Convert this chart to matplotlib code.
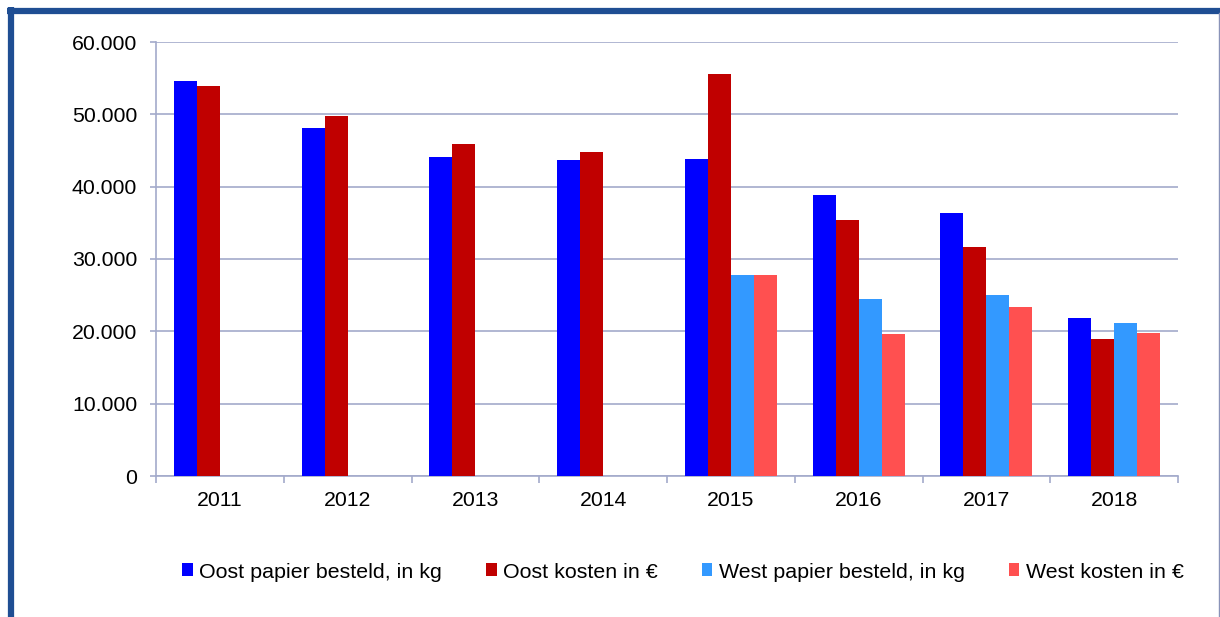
import numpy as np
import matplotlib
matplotlib.use("Agg")
import matplotlib.pyplot as plt
from matplotlib.lines import Line2D
from matplotlib.ticker import FuncFormatter, FixedLocator

plt.rcParams['font.family'] = ['Liberation Sans', 'DejaVu Sans']

# data
years = ['2011', '2012', '2013', '2014', '2015', '2016', '2017', '2018']
oost_papier = [54600, 48100, 44100, 43700, 43800, 38800, 36400, 21800]
oost_kosten = [53900, 49800, 45900, 44800, 55600, 35400, 31600, 18900]
west_papier = [np.nan, np.nan, np.nan, np.nan, 27800, 24500, 25000, 21200]
west_kosten = [np.nan, np.nan, np.nan, np.nan, 27800, 19700, 23300, 19800]

series = [
    ('Oost papier besteld, in kg', oost_papier, '#0000FF'),
    ('Oost kosten in €', oost_kosten, '#C00000'),
    ('West papier besteld, in kg', west_papier, '#3399FF'),
    ('West kosten in €', west_kosten, '#FF5050'),
]

grid_col = '#A3AACB'
border_col = '#1F4E93'

W, H = 1220, 617
fig = plt.figure(figsize=(W / 100, H / 100), dpi=100)
ax = fig.add_axes([156 / W, 1 - 476 / H, (1178 - 156) / W, (476 - 42) / H])

x = np.arange(len(years))
bw = 0.18
for i, (label, vals, col) in enumerate(series):
    ax.bar(x + (i - 1.5) * bw, vals, width=bw, color=col, label=label,
           edgecolor='none', zorder=3)

ax.set_xlim(-0.5, len(years) - 0.5)
ax.set_ylim(0, 60000)
ax.set_yticks(np.arange(0, 60001, 10000))
ax.yaxis.set_major_formatter(FuncFormatter(lambda v, p: f'{int(v):,}'.replace(',', '.')))
ax.set_xticks(x)
ax.set_xticklabels(years)
ax.xaxis.set_minor_locator(FixedLocator(np.arange(len(years) + 1) - 0.5))

ax.grid(axis='y', color=grid_col, linewidth=1.2, zorder=0)
for s in ['top', 'right']:
    ax.spines[s].set_visible(False)
for s in ['left', 'bottom']:
    ax.spines[s].set_color(grid_col)
    ax.spines[s].set_linewidth(1.2)

ax.tick_params(axis='y', length=4.5, color=grid_col, width=1.2, pad=9, labelsize=15.3)
ax.tick_params(axis='x', which='major', length=0, pad=11, labelsize=15.3)
ax.tick_params(axis='x', which='minor', length=5, color=grid_col, width=1.2)

fig.legend(loc='center', bbox_to_anchor=(683 / W, 1 - 572 / H), ncol=4,
           frameon=False, fontsize=15.4, handlelength=0.5, handleheight=0.55,
           handletextpad=0.3, columnspacing=2.05, borderaxespad=0)

# outer frame
fig.add_artist(Line2D([10.5 / W, 10.5 / W], [1 - 7 / H, 0], transform=fig.transFigure,
                      color=border_col, linewidth=4.5, solid_capstyle='butt'))
fig.add_artist(Line2D([7 / W, 1], [1 - 10.5 / H, 1 - 10.5 / H], transform=fig.transFigure,
                      color=border_col, linewidth=4.5, solid_capstyle='butt'))
fig.add_artist(Line2D([1218.5 / W, 1218.5 / W], [1 - 13 / H, 0], transform=fig.transFigure,
                      color='#8A93B8', linewidth=1.0))

fig.savefig('out.png', dpi=100)
